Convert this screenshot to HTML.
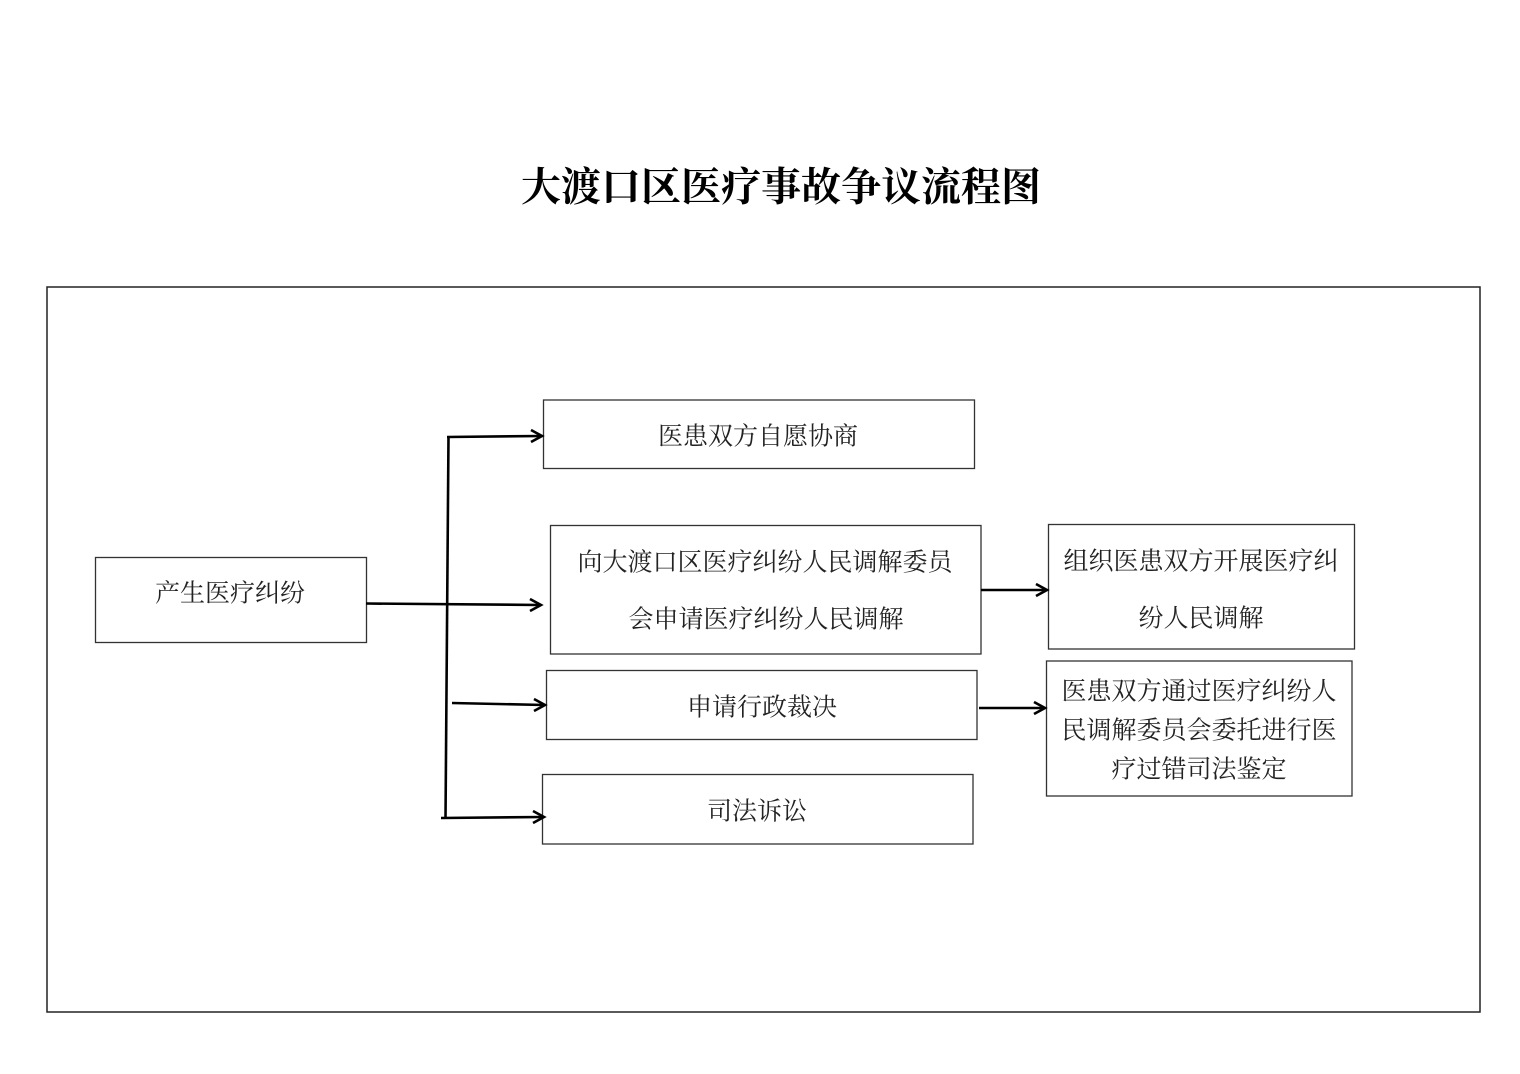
<!DOCTYPE html>
<html>
<head>
<meta charset="utf-8">
<style>
html,body{margin:0;padding:0;background:#fff;}
svg{display:block;}
.t{font-family:"Liberation Serif","Noto Serif CJK SC",serif;font-size:25px;fill:#222;text-anchor:middle;dominant-baseline:central;}
.ti{font-family:"Liberation Serif","Noto Serif CJK SC",serif;font-size:40px;font-weight:bold;fill:#000;text-anchor:middle;dominant-baseline:central;}
.b{fill:#fff;stroke:#333;stroke-width:1.3;}
.l{stroke:#000;stroke-width:2.6;fill:none;stroke-linecap:butt;}
.a{stroke:#000;stroke-width:2.6;fill:none;stroke-linejoin:miter;}
</style>
</head>
<body>
<svg width="1520" height="1074" viewBox="0 0 1520 1074" xmlns="http://www.w3.org/2000/svg">
<text class="ti" x="781" y="187">大渡口区医疗事故争议流程图</text>
<rect x="47" y="287" width="1433" height="725" fill="none" stroke="#222" stroke-width="1.5"/>

<!-- boxes -->
<rect class="b" x="95.5" y="557.5" width="271" height="85"/>
<text class="t" x="230" y="594">产生医疗纠纷</text>

<rect class="b" x="543.5" y="400" width="431" height="68.5"/>
<text class="t" x="758" y="437">医患双方自愿协商</text>

<rect class="b" x="550.5" y="525.5" width="430.5" height="128.5"/>
<text class="t" x="765" y="563">向大渡口区医疗纠纷人民调解委员</text>
<text class="t" x="766" y="620">会申请医疗纠纷人民调解</text>

<rect class="b" x="546.5" y="670.5" width="430.5" height="69"/>
<text class="t" x="762" y="708">申请行政裁决</text>

<rect class="b" x="542.5" y="774.5" width="430.5" height="69.5"/>
<text class="t" x="757" y="812">司法诉讼</text>

<rect class="b" x="1048.5" y="524.5" width="306" height="124.5"/>
<text class="t" x="1201" y="562">组织医患双方开展医疗纠</text>
<text class="t" x="1201" y="619">纷人民调解</text>

<rect class="b" x="1046.5" y="661" width="305.5" height="135"/>
<text class="t" x="1199" y="692">医患双方通过医疗纠纷人</text>
<text class="t" x="1199" y="731">民调解委员会委托进行医</text>
<text class="t" x="1199" y="770">疗过错司法鉴定</text>

<!-- connectors -->
<line class="l" x1="448.5" y1="436" x2="445.5" y2="819"/>
<line class="l" x1="447" y1="437" x2="541" y2="436"/>
<polyline class="a" points="531,430 542,436 531,442"/>

<line class="l" x1="366" y1="603.5" x2="540" y2="605"/>
<polyline class="a" points="530,599 541,605 530,611"/>

<line class="l" x1="452" y1="703" x2="544" y2="705"/>
<polyline class="a" points="534,699 545,705 534,711"/>

<line class="l" x1="441" y1="818" x2="543" y2="817"/>
<polyline class="a" points="533,811 544,817 533,823"/>

<line class="l" x1="981" y1="590" x2="1046" y2="590"/>
<polyline class="a" points="1036,584 1047,590 1036,596"/>

<line class="l" x1="979" y1="708" x2="1044" y2="708"/>
<polyline class="a" points="1034,702 1045,708 1034,714"/>
</svg>
</body>
</html>
